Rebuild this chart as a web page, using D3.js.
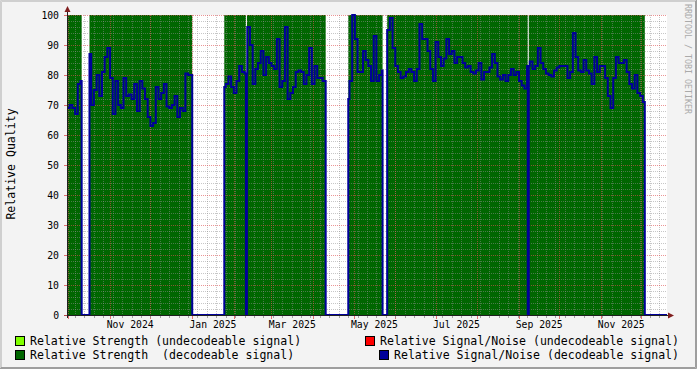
<!DOCTYPE html>
<html><head><meta charset="utf-8">
<script src="https://cdn.jsdelivr.net/npm/d3@7"></script>
<style>
html,body{margin:0;padding:0;background:#F3F3F3;}
svg{display:block;}
text{font-family:"DejaVu Sans Mono",monospace;white-space:pre;}
</style>
</head><body>
<svg id="chart" width="697" height="369"></svg>
<script>
// ---------------- DATA ----------------
const startDate = "2024-09-30T00:00";
const endDate = "2025-12-20T00:00";
const snStepDays = 2;
// Relative Signal/Noise (decodeable signal), one value per 2 days (null = no data)
const snValues = [
 69,70,69,67,77,78,null,null,87,70,
 75,80,73,81,86,89,79,67,78,70,
 69,79,73,73.5,72,77,68,78,75.5,72,
 66,63,64,76,72,74,77,69.5,69,70,
 73,66,69,68,80.5,80,80,null,null,null,
 null,null,null,null,null,null,null,null,76,77,
 79.5,76,74,78,83,81,80.5,96,90,77,
 82,84,88,80,86,84,83,82,92,76,
 78,96,72,74,76,81,81.5,81,77,80,
 89,77,83,79,79,78,78,null,null,null,
 null,null,null,null,72,78,100,92,81,81,
 88,85,83,78,93,78,80,81.5,null,95,
 99,89,83,81,79,79.5,81,82,81,78,
 82,97,92,92,88,82,78,91,86,83,
 85.5,92,87,88,84,86,86,84,82.5,83,
 81,80.5,81.5,84,78.5,81,81,82.5,87,84,
 79.5,78.5,80,78,80,82,80,81,78,76.5,
 75.5,83,84.5,82,83,89,84,82,80.5,80,
 79.5,81.5,82.5,83,83,83,79,81,94,86,
 81.5,81,85,81.5,80.5,77,86,81,83,83,
 79,73,69,79,86,84,84,85,81,77,
 75.5,80,74,73,71,null,null,null,null,null,
 null,null,null
];
// Relative Strength (decodeable signal): periods with data, value 100
const strengthFrom = ["2024-09-30T00:00","2024-10-16T17:00","2025-01-24T22:00","2025-02-10T18:00","2025-04-27T02:00","2025-05-26T00:00","2025-09-08T06:00"];
const strengthTo   = ["2024-10-10T22:00","2025-01-01T02:00","2025-02-10T00:00","2025-04-10T07:00","2025-05-22T14:00","2025-09-07T12:00","2025-12-03T12:00"];
const strengthValue = 100;

const yTicks = [0,10,20,30,40,50,60,70,80,90,100];
const xLabelMonths = ["2024-11","2025-01","2025-03","2025-05","2025-07","2025-09","2025-11"];
const xLabels = ["Nov 2024","Jan 2025","Mar 2025","May 2025","Jul 2025","Sep 2025","Nov 2025"];
const yTitle = "Relative Quality";
const watermark = "RRDTOOL / TOBI OETIKER";
const legendLabels = ["Relative Strength (undecodeable signal)","Relative Signal/Noise (undecodeable signal)","Relative Strength  (decodeable signal)","Relative Signal/Noise (decodeable signal)"];
const legendColors = ["#80FF00","#FF0000","#006600","#000099"];

// ---------------- DRAW ----------------
const W=697,H=369, L=67,R=667,T=15,B=315;
const svg=d3.select("#chart");
const pt=d3.utcParse("%Y-%m-%dT%H:%M"), pm=d3.utcParse("%Y-%m");
const t0=pt(startDate), t1=pt(endDate);
const x=d3.scaleUtc().domain([t0,t1]).range([L,R]);
const y=d3.scaleLinear().domain([0,100]).range([B,T]);

// background + frame
svg.append("rect").attr("width",W).attr("height",H).attr("fill","#F3F3F3");
svg.append("path").attr("d",`M0.5,${H-0.5}V0.5H${W-0.5}`).attr("stroke","#CFCFCF").attr("fill","none");
svg.append("path").attr("d",`M1.5,${H-1.5}V1.5H${W-1.5}`).attr("stroke","#CFCFCF").attr("fill","none");
svg.append("path").attr("d",`M0,${H-0.5}H${W-0.5}V0`).attr("stroke","#9E9E9E").attr("fill","none");
svg.append("path").attr("d",`M1,${H-1.5}H${W-1.5}V1`).attr("stroke","#9E9E9E").attr("fill","none");

// canvas
svg.append("rect").attr("x",L).attr("y",T).attr("width",R-L).attr("height",B-T).attr("fill","#FFFFFF");

// strength area
const segs=strengthFrom.map((f,i)=>[pt(f),pt(strengthTo[i])]);
const area=d3.area().x(d=>x(d[0])).y0(y(0)).y1(d=>y(d[1]));
svg.append("g").selectAll("path").data(segs).join("path")
  .attr("d",s=>area([[s[0],strengthValue],[s[1],strengthValue]]))
  .attr("fill","#006600");

// grid (on top of area)
const grid=svg.append("g");
const minorY=d3.range(0,101,2).filter(v=>v%10!==0);
grid.selectAll(".hm").data(minorY).join("line")
  .attr("x1",L).attr("x2",R).attr("y1",d=>Math.round(y(d))+0.5).attr("y2",d=>Math.round(y(d))+0.5)
  .attr("stroke","rgba(143,143,143,0.5)").attr("stroke-dasharray","1,1");
const weeks=d3.utcSunday.range(t0,t1);
grid.selectAll(".vm").data(weeks).join("line")
  .attr("y1",T).attr("y2",B).attr("x1",d=>Math.round(x(d))+0.5).attr("x2",d=>Math.round(x(d))+0.5)
  .attr("stroke","rgba(143,143,143,0.5)").attr("stroke-dasharray","1,1");
grid.selectAll(".hM").data(yTicks.filter(v=>v>0)).join("line")
  .attr("x1",L).attr("x2",R).attr("y1",d=>Math.round(y(d))+0.5).attr("y2",d=>Math.round(y(d))+0.5)
  .attr("stroke","rgba(222,79,79,0.6)").attr("stroke-dasharray","1,1");
const months=d3.utcMonth.range(t0,t1);
grid.selectAll(".vM").data(months).join("line")
  .attr("y1",T).attr("y2",B).attr("x1",d=>Math.round(x(d))+0.5).attr("x2",d=>Math.round(x(d))+0.5)
  .attr("stroke","rgba(222,79,79,0.6)").attr("stroke-dasharray","1,1");

// signal/noise line
const dayMs=864e5;
const pts=[];
snValues.forEach((v,i)=>{
  const a=+t0+i*snStepDays*dayMs, b=a+snStepDays*dayMs;
  const cuts=[a,b];
  segs.forEach(s=>{[+s[0],+s[1]].forEach(c=>{if(c>a&&c<b)cuts.push(c);});});
  cuts.sort((p,q)=>p-q);
  for(let k=0;k<cuts.length-1;k++){
    const mid=(cuts[k]+cuts[k+1])/2;
    const cov=segs.some(s=>mid>=+s[0]&&mid<+s[1]);
    pts.push([cuts[k],(cov&&v!=null)?v:0]);
  }
});
pts.push([+t1,pts[pts.length-1][1]]);
const line=d3.line().x(d=>x(new Date(d[0]))).y(d=>y(d[1])).curve(d3.curveStepAfter);
svg.append("path").attr("d",line(pts)).attr("fill","none").attr("stroke","#000099").attr("stroke-width",2);

// axes
const axisCol="#1F1F1F", arrowCol="#801F1F";
svg.append("line").attr("x1",L-3).attr("x2",R+4).attr("y1",B+0.5).attr("y2",B+0.5).attr("stroke",axisCol);
svg.append("line").attr("x1",L+0.5).attr("x2",L+0.5).attr("y1",B+3).attr("y2",T-5).attr("stroke",axisCol);
svg.append("path").attr("d",`M${R+1},${B-2.5}L${R+7},${B+0.5}L${R+1},${B+3.5}Z`).attr("fill",arrowCol);
svg.append("path").attr("d",`M${L-2.5},${T-3}L${L+0.5},${T-9}L${L+3.5},${T-3}Z`).attr("fill",arrowCol);
// ticks
svg.append("g").selectAll("line").data(months).join("line")
  .attr("x1",d=>Math.round(x(d))+0.5).attr("x2",d=>Math.round(x(d))+0.5).attr("y1",B+1).attr("y2",B+4)
  .attr("stroke","rgba(222,79,79,0.8)");
svg.append("g").selectAll("line").data(weeks).join("line")
  .attr("x1",d=>Math.round(x(d))+0.5).attr("x2",d=>Math.round(x(d))+0.5).attr("y1",B+1).attr("y2",B+3)
  .attr("stroke","rgba(143,143,143,0.8)");
svg.append("g").selectAll("line").data(yTicks).join("line")
  .attr("x1",L-3).attr("x2",L).attr("y1",d=>Math.round(y(d))+0.5).attr("y2",d=>Math.round(y(d))+0.5)
  .attr("stroke","rgba(222,79,79,0.8)");

// tick labels
svg.append("g").selectAll("text").data(yTicks).join("text")
  .attr("x",59).attr("y",d=>y(d)+3.6).attr("text-anchor","end")
  .attr("font-size","9.75px").attr("fill","#000").text(d=>d);
svg.append("g").selectAll("text").data(xLabelMonths).join("text")
  .attr("x",m=>{const a=pm(m),b=d3.utcMonth.offset(a,1);return (x(a)+x(b))/2;})
  .attr("y",328).attr("text-anchor","middle").attr("font-size","9.75px").attr("fill","#000")
  .text((m,i)=>xLabels[i]);

// titles
svg.append("text").attr("transform","translate(15,164) rotate(-90)").attr("text-anchor","middle")
  .attr("font-size","11.55px").attr("fill","#000").text(yTitle);
svg.append("text").attr("transform","translate(685,4) rotate(90)").attr("text-anchor","start")
  .attr("font-size","8.3px").attr("fill","#AAAAAA").text(watermark);

// legend
const legPos=[[15,30,341],[365,380,341],[15,30,355],[379,394,355]];
legendLabels.forEach((lab,i)=>{
  const [bx,tx,cy]=legPos[i];
  svg.append("rect").attr("x",bx+0.5).attr("y",cy-4.5).attr("width",9).attr("height",9)
    .attr("fill",legendColors[i]).attr("stroke","#000").attr("stroke-width",1);
  svg.append("text").attr("x",tx).attr("y",cy+4).attr("font-size","11.55px").attr("fill","#000").text(lab);
});
</script>
</body></html>
